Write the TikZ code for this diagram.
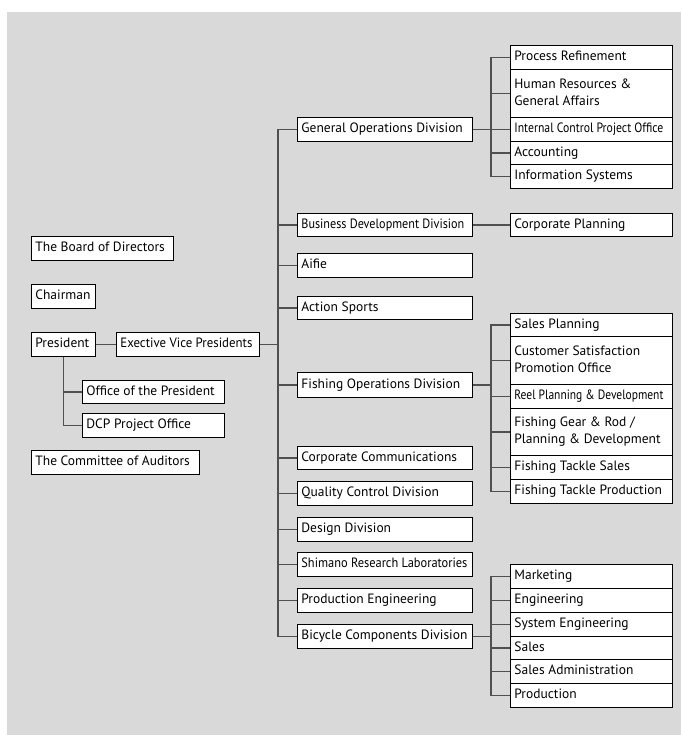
\documentclass[tikz,border=0pt]{standalone}
\usepackage{fontspec}
\setmainfont{PT Sans}
\usepackage{graphicx}
\usetikzlibrary{shadows}
\definecolor{bg}{HTML}{D9D9D9}
\definecolor{ln}{HTML}{505050}
\tikzset{
  box/.style={draw=black, line width=0.8pt, fill=white, inner sep=0pt, anchor=north west,
    font=\fontsize{13.5}{17}\selectfont,
    drop shadow={shadow xshift=0.7pt, shadow yshift=-0.7pt, fill=black!75, opacity=1}},
  conn/.style={draw=ln, line width=1.3pt}
}
\newcommand\obox[6]{\node[box, minimum width=#4pt, minimum height=#5pt] (#1) at (#2,#3)
  {\parbox{\dimexpr#4pt-8pt\relax}{\raggedright\strut #6\strut}};}
\newcommand\cnd[2]{\resizebox{#1pt}{\height}{#2}}
\begin{document}
\begin{tikzpicture}[x=1pt,y=-1pt]
\useasboundingbox (0,0) rectangle (681,735);
\fill[bg] (7,12) rectangle (681,735);
% left column
\obox{bod}{31}{236}{142}{24}{The Board of Directors}
\obox{chair}{31}{284}{64}{24}{Chairman}
\obox{pres}{31}{332}{64}{24}{President}
\obox{evp}{116}{332}{143}{24}{\cnd{132}{Exective Vice Presidents}}
\obox{op}{82}{380}{142}{23}{Office of the President}
\obox{dcp}{82}{413}{142}{24}{DCP Project Office}
\obox{coa}{31}{450}{168}{24}{The Committee of Auditors}
% level 2
\obox{god}{297}{117}{175}{24}{General Operations Division}
\obox{bdd}{297}{213}{175}{23}{\cnd{163}{Business Development Division}}
\obox{aif}{297}{253}{175}{24}{Aifie}
\obox{as}{297}{296}{175}{23}{Action Sports}
\obox{fod}{297}{372}{175}{25}{Fishing Operations Division}
\obox{cc}{297}{446}{175}{23}{Corporate Communications}
\obox{qcd}{297}{481}{175}{24}{Quality Control Division}
\obox{dd}{297}{517}{175}{24}{Design Division}
\obox{srl}{297}{552}{175}{24}{\cnd{166}{Shimano Research Laboratories}}
\obox{pe}{297}{588}{175}{24}{Production Engineering}
\obox{bcd}{297}{624}{175}{24}{Bicycle Components Division}
% general subs
\obox{pr}{510}{45}{162}{24}{Process Refinement}
\obox{hr}{510}{69}{162}{48}{Human Resources \&\\General Affairs}
\obox{ic}{510}{117}{162}{24}{\cnd{149}{Internal Control Project Office}}
\obox{acc}{510}{141}{162}{23}{Accounting}
\obox{is}{510}{164}{162}{24}{Information Systems}
\obox{cp}{510}{213}{162}{23}{Corporate Planning}
% fishing subs
\obox{sp}{510}{313}{162}{23}{Sales Planning}
\obox{cs}{510}{336}{162}{48}{Customer Satisfaction\\Promotion Office}
\obox{rp}{510}{384}{162}{24}{\cnd{149}{Reel Planning \& Development}}
\obox{fg}{510}{408}{162}{47}{Fishing Gear \& Rod /\\Planning \& Development}
\obox{fts}{510}{455}{162}{24}{Fishing Tackle Sales}
\obox{ftp}{510}{479}{162}{24}{Fishing Tackle Production}
% bicycle subs
\obox{mk}{510}{564}{162}{24}{Marketing}
\obox{eng}{510}{588}{162}{24}{Engineering}
\obox{se}{510}{612}{162}{24}{System Engineering}
\obox{sal}{510}{636}{162}{23}{Sales}
\obox{sa}{510}{659}{162}{24}{Sales Administration}
\obox{prod}{510}{683}{162}{24}{Production}
% connectors left
\draw[conn] (pres.east) -- (evp.west);
\draw[conn] (pres.south) |- (dcp.west);
\draw[conn] (op.west) -- ++(-19,0);
\draw[conn] (evp.east) -- ++(19,0);
% trunk
\draw[conn] (god.west) -- ++(-19,0) |- (bcd.west);
\foreach \n in {bdd,aif,as,fod,cc,qcd,dd,srl,pe}
  \draw[conn] (\n.west) -- ++(-19,0);
% general
\draw[conn] (god.east) -- (ic.west);
\draw[conn] (pr.west) -- ++(-19,0) |- (is.west);
\foreach \n in {hr,acc}
  \draw[conn] (\n.west) -- ++(-19,0);
\draw[conn] (bdd.east) -- (cp.west);
% fishing
\draw[conn] (fod.east) -- ++(19,0);
\draw[conn] (sp.west) -- ++(-19,0) |- (ftp.west);
\foreach \n in {cs,rp,fg,fts}
  \draw[conn] (\n.west) -- ++(-19,0);
% bicycle
\draw[conn] (bcd.east) -- ++(19,0);
\draw[conn] (mk.west) -- ++(-19,0) |- (prod.west);
\foreach \n in {eng,se,sal,sa}
  \draw[conn] (\n.west) -- ++(-19,0);
\end{tikzpicture}
\end{document}
